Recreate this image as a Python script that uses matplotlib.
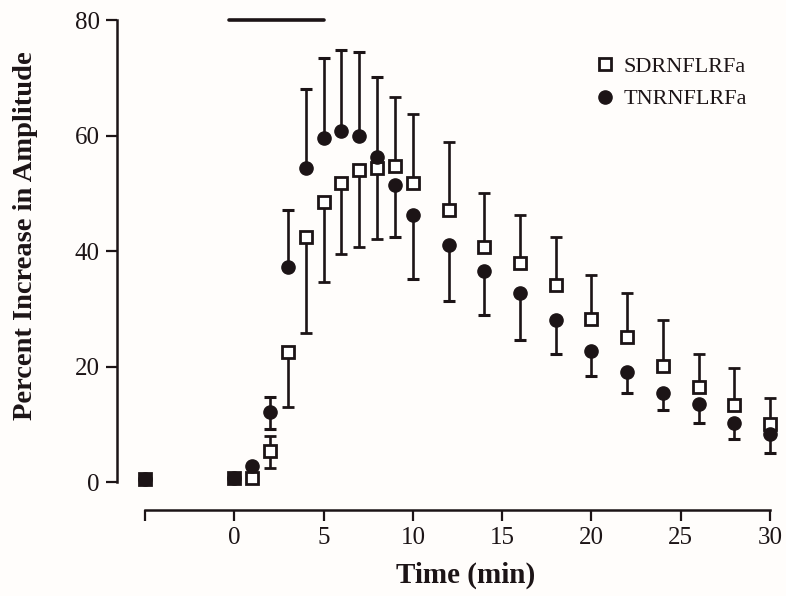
import matplotlib
matplotlib.use("Agg")
import matplotlib.pyplot as plt
from matplotlib.lines import Line2D

plt.rcParams['font.family'] = ['Liberation Serif', 'DejaVu Serif']

# ---- data ----
time = [-5, 0, 1, 2, 3, 4, 5, 6, 7, 8, 9, 10, 12, 14, 16, 18, 20, 22, 24, 26, 28, 30]

sd_mean = [0.5, 0.7, 0.7, 5.4, 22.5, 42.4, 48.5, 51.9, 54.0, 54.4, 54.8, 51.9,
           47.1, 40.8, 37.9, 34.1, 28.2, 25.2, 20.1, 16.4, 13.3, 10.1]
sd_err_lo = [0, 0, 0, 3.0, 9.5, 16.5, 13.8, 12.4, 13.3, 12.3, 0, 0,
             0, 0, 0, 0, 0, 0, 0, 0, 0, 0]
sd_err_hi = [0, 0, 0, 2.6, 0, 0, 0, 0, 0, 0, 12.0, 11.8,
             11.9, 9.3, 8.4, 8.4, 7.6, 7.6, 8.0, 5.8, 6.4, 4.5]

tn_mean = [0.5, 0.7, 2.8, 12.1, 37.3, 54.4, 59.6, 60.8, 60.0, 56.4, 51.5, 46.3,
           41.1, 36.5, 32.7, 28.1, 22.7, 19.1, 15.4, 13.6, 10.3, 8.3]
tn_err_lo = [0, 0, 0, 2.9, 0, 0, 0, 0, 0, 0, 9.1, 11.1,
             9.7, 7.6, 8.0, 5.9, 4.3, 3.6, 2.9, 3.3, 2.9, 3.3]
tn_err_hi = [0, 0, 0, 2.6, 9.9, 13.7, 13.9, 14.1, 14.5, 13.8, 0, 0,
             0, 0, 0, 0, 0, 0, 0, 0, 0, 0]

application = [-0.3, 5]   # horizontal bar: peptide application period
labels = ['SDRNFLRFa', 'TNRNFLRFa']
xticks = [-5, 0, 5, 10, 15, 20, 25, 30]
xticklabels = ['', '0', '5', '10', '15', '20', '25', '30']
yticks = [0, 20, 40, 60, 80]

# ---- figure ----
W, H = 786, 596
ink = '#1c1416'
bg = '#fffdfb'
fig = plt.figure(figsize=(W / 100, H / 100), dpi=100, facecolor=bg)
L, R, B, T = 116.5, 778.9, 510.0, 8.9   # axes box in pixels
ax = fig.add_axes([L / W, 1 - B / H, (R - L) / W, (B - T) / H], facecolor=bg)
ax.set_xlim(-6.6, 30.5)
ax.set_ylim(-4.85, 82)

ax.errorbar(time, sd_mean, yerr=[sd_err_lo, sd_err_hi], fmt='s', color=ink,
            ms=8, mec=ink, mfc='white', mew=2.0, ecolor=ink, elinewidth=1.9,
            capsize=4.5, capthick=2.2, zorder=3, clip_on=False)
ax.errorbar(time, tn_mean, yerr=[tn_err_lo, tn_err_hi], fmt='o', color=ink,
            ms=9.5, mec=ink, mfc=ink, ecolor=ink, elinewidth=1.9,
            capsize=4.5, capthick=2.2, zorder=4, clip_on=False)

ax.plot(application, [80, 80], color=ink, lw=2.6, solid_capstyle='round',
        clip_on=False, zorder=5)

for s in ['top', 'right']:
    ax.spines[s].set_visible(False)
for s in ['left', 'bottom']:
    ax.spines[s].set_linewidth(1.8)
    ax.spines[s].set_color(ink)
ax.spines['left'].set_bounds(0, 80)
ax.spines['bottom'].set_bounds(-5, 30)

ax.set_xticks(xticks)
ax.set_xticklabels(xticklabels)
ax.set_yticks(yticks)
ax.tick_params(axis='both', direction='out', length=8, width=1.6, color=ink,
               labelsize=18, labelcolor=ink, pad=4)

ax.set_xlabel('Time (min)', fontsize=21, fontweight='bold', color=ink)
ax.set_ylabel('Percent Increase in Amplitude', fontsize=20.5, fontweight='bold', color=ink)
ax.xaxis.set_label_coords((466 - L) / (R - L), -(562 - B) / (B - T))
ax.yaxis.set_label_coords(-(L - 38) / (R - L), (B - 235.5) / (B - T))

handles = [
    Line2D([], [], marker='s', ls='none', ms=8, mec=ink, mfc='white', mew=2.0),
    Line2D([], [], marker='o', ls='none', ms=9.5, mec=ink, mfc=ink),
]
fig.legend(handles, labels, loc='upper left',
           bbox_to_anchor=(595 / W, 1 - 56 / H), frameon=False,
           fontsize=16, handlelength=0.9, handletextpad=0.4,
           labelspacing=0.55, borderpad=0, borderaxespad=0,
           labelcolor=ink)

fig.savefig('out.png', dpi=100, facecolor=bg)
